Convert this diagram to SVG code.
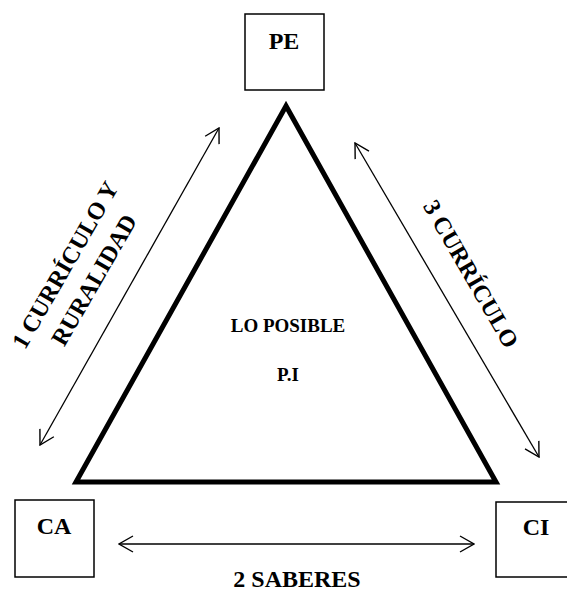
<svg xmlns="http://www.w3.org/2000/svg" width="567" height="593" viewBox="0 0 567 593">
<style>
.box{fill:#fff;stroke:#000;stroke-width:1.5}
.lbl{font-family:"Liberation Serif","Times New Roman",serif;font-weight:bold;fill:#000;text-anchor:middle}
.big{font-size:24px}
.rot{font-size:24px}
.mid{font-size:19px}
.conn{stroke:#000;stroke-width:1.3;fill:none;marker-start:url(#ah);marker-end:url(#ah)}
</style>
<defs>
<marker id="ah" viewBox="0 0 16 18" refX="15" refY="9" markerWidth="16" markerHeight="18" markerUnits="userSpaceOnUse" orient="auto-start-reverse">
<path d="M1,1 L15,9 L1,17" fill="none" stroke="#000" stroke-width="1.4"/>
</marker>
</defs>
<rect width="567" height="593" fill="#fff"/>
<g id="triangle">
<polygon points="286,106 76,482 496,482" fill="#fff" stroke="#000" stroke-width="5" stroke-linejoin="miter"/>
<text class="lbl mid" x="288" y="332">LO POSIBLE</text>
<text class="lbl mid" x="288" y="381">P.I</text>
</g>
<g id="PE">
<rect class="box" x="245" y="14" width="79" height="76"/>
<text class="lbl big" x="284" y="49">PE</text>
</g>
<g id="CA">
<rect class="box" x="15" y="500" width="79" height="77"/>
<text class="lbl big" x="54" y="534">CA</text>
</g>
<g id="CI">
<rect class="box" x="496" y="502" width="80" height="75"/>
<text class="lbl big" x="536" y="535">CI</text>
</g>
<g id="connectors">
<line class="conn" x1="40" y1="445" x2="219" y2="128"/>
<line class="conn" x1="355" y1="143" x2="539" y2="457"/>
<line class="conn" x1="119" y1="544" x2="474" y2="544"/>
</g>
<g id="labels">
<text class="lbl rot" transform="translate(72,269) rotate(-60)">1 CURRÍCULO Y</text>
<text class="lbl rot" transform="translate(101,284) rotate(-60)">RURALIDAD</text>
<text class="lbl rot" transform="translate(464,278) rotate(60)">3 CURRÍCULO</text>
<text class="lbl big" x="297" y="587">2 SABERES</text>
</g>
</svg>
